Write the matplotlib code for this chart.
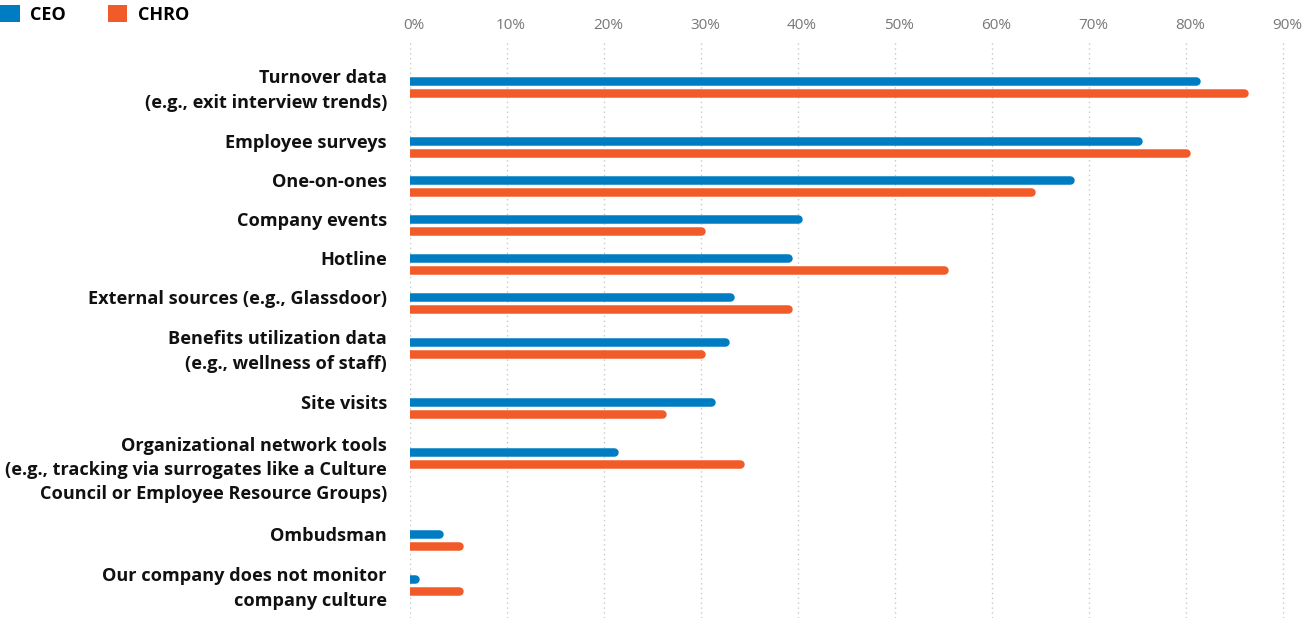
import matplotlib
matplotlib.use("Agg")
import matplotlib.pyplot as plt
from matplotlib.patches import Patch
from matplotlib.transforms import ScaledTranslation

# ---------------- data ----------------
categories = [
    "Turnover data\n(e.g., exit interview trends)",
    "Employee surveys",
    "One-on-ones",
    "Company events",
    "Hotline",
    "External sources (e.g., Glassdoor)",
    "Benefits utilization data\n(e.g., wellness of staff)",
    "Site visits",
    "Organizational network tools\n(e.g., tracking via surrogates like a Culture\nCouncil or Employee Resource Groups)",
    "Ombudsman",
    "Our company does not monitor\ncompany culture",
]
ceo = [81, 75, 68, 40, 39, 33, 32.5, 31, 21, 3, 0.5]
chro = [86, 80, 64, 30, 55, 39, 30, 26, 34, 5, 5]
series_names = ["CEO", "CHRO"]
xtick_values = [0, 10, 20, 30, 40, 50, 60, 70, 80, 90]
xtick_labels = [f"{v}%" for v in xtick_values]

# ---------------- style ----------------
BLUE = "#007CC3"
ORANGE = "#F15A29"
FONT = "Open Sans"
plt.rcParams["font.family"] = [FONT, "DejaVu Sans"]

W, H = 1302, 618
fig = plt.figure(figsize=(W / 100, H / 100), dpi=100)

ax_left_px, ax_right_px = 410, 1290
ax_top_px = 40
px_per_pct = 9.7
ax = fig.add_axes([ax_left_px / W, 0, (ax_right_px - ax_left_px) / W, 1 - ax_top_px / H])
ax.set_xlim(0, (ax_right_px - ax_left_px) / px_per_pct)
ax.set_ylim(H, ax_top_px)  # y measured in pixels from the top

# layout of rows derived from the number of label lines
nlines = [c.count("\n") + 1 for c in categories]
label_centers = []
y = 90.5
for i, n in enumerate(nlines):
    if i > 0:
        h_prev = 39 + 27 * (nlines[i - 1] - 1)
        h_cur = 39 + 27 * (n - 1)
        y += (h_prev + h_cur) / 2
    label_centers.append(y)
group_centers = [lc + 4 - 8 * (n - 1) for lc, n in zip(label_centers, nlines)]

bar_lw = 8.5 * 72 / 100  # ~8.5 px
off = 6
for gc, c_val, h_val in zip(group_centers, ceo, chro):
    ax.hlines(gc - off, 0, c_val, color=BLUE, lw=bar_lw, capstyle="round", zorder=3)
    ax.hlines(gc + off, 0, h_val, color=ORANGE, lw=bar_lw, capstyle="round", zorder=3)

# category labels
label_x = -23 / (ax_right_px - ax_left_px)
for lc, txt in zip(label_centers, categories):
    ax.text(label_x, lc, txt, transform=ax.get_yaxis_transform(), ha="right", va="center",
            fontsize=13.1, fontweight="bold", color="#111111", linespacing=1.46,
            clip_on=False, multialignment="right")

# x axis on top
ax.xaxis.tick_top()
ax.set_xticks(xtick_values)
ax.set_xticklabels(xtick_labels, fontsize=11, color="#777777")
ax.tick_params(axis="x", length=0, pad=5)
shift = ScaledTranslation(4 / 100, 0, fig.dpi_scale_trans)
for lbl in ax.get_xticklabels():
    lbl.set_transform(lbl.get_transform() + shift)
ax.set_yticks([])
for s in ax.spines.values():
    s.set_visible(False)
ax.grid(axis="x", color="#c8c8c8", linestyle=(0, (1, 2.5)), linewidth=1, zorder=0)
ax.set_axisbelow(True)

# legend
handles = [Patch(facecolor=BLUE, edgecolor="none"), Patch(facecolor=ORANGE, edgecolor="none")]
leg = fig.legend(handles, series_names, loc="upper left", bbox_to_anchor=(0, 1 - 5 / H),
                 ncol=2, frameon=False, borderaxespad=0, borderpad=0,
                 handlelength=1.08, handleheight=1.08, handletextpad=0.6, columnspacing=2.3,
                 prop={"family": FONT, "weight": "bold", "size": 13})

fig.savefig("out.png", dpi=100)
